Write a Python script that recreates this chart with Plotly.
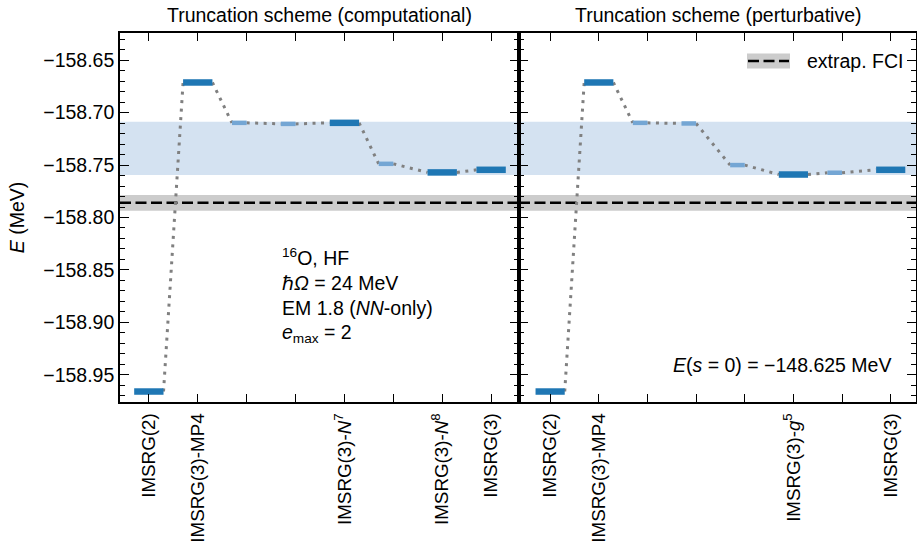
import plotly.graph_objects as go

# ---------------- data ----------------
comp_labels = ["IMSRG(2)", "IMSRG(3)-MP4", "", "", "IMSRG(3)-<i>N</i><sup>7</sup>", "",
               "IMSRG(3)-<i>N</i><sup>8</sup>", "IMSRG(3)"]
comp_E = [-158.966, -158.6712, -158.7097, -158.7107, -158.7097, -158.7488, -158.7570, -158.7545]
comp_main = [True, True, False, False, True, False, True, True]

pert_labels = ["IMSRG(2)", "IMSRG(3)-MP4", "", "", "", "IMSRG(3)-<i>g</i><sup>5</sup>", "", "IMSRG(3)"]
pert_E = [-158.966, -158.6712, -158.7097, -158.7103, -158.7500, -158.7590, -158.7573, -158.7545]
pert_main = [True, True, False, False, False, True, False, True]

fci_E = -158.786
fci_err = 0.0075
band_lo, band_hi = -158.7595, -158.7087
E_s0 = -148.625

panel_titles = ["Truncation scheme (computational)", "Truncation scheme (perturbative)"]
info_lines = ["<sup>16</sup>O, HF", "ℏ<i>Ω</i> = 24 MeV", "EM 1.8 (<i>NN</i>-only)",
              "<i>e</i><sub>max</sub> = 2"]
legend_label = "extrap. FCI"

# ---------------- styling ----------------
FONT = "Liberation Sans, Arial, sans-serif"
FS = 19.5
DARK = "#1f77b4"
LIGHT = "rgb(116,166,212)"
GREY_DOT = "rgb(128,128,128)"
BAND_BLUE = "rgb(212,226,241)"
BAND_GREY = "rgb(204,204,204)"
DASH = "11px,4.5px"

# plot area in pixels (for paper-coordinate conversions of decorations)
L, R, T, B = 120, 1, 33, 144
W, H = 917, 546
PW, PH = W - L - R, H - T - B


def px(xp):
    return (xp - L) / PW


def py(yp):
    return (H - B - yp) / PH


fig = go.Figure()


def extent(i, main):
    return (i - 0.3, i + 0.3) if main else (i - 0.3, i)


def add_panel(E, main, xa, ya):
    n = len(E)
    cx, cy = [], []
    for i in range(n - 1):
        cx += [extent(i, main[i])[1], extent(i + 1, main[i + 1])[0], None]
        cy += [E[i], E[i + 1], None]
    fig.add_trace(go.Scatter(x=cx, y=cy, mode="lines", xaxis=xa, yaxis=ya, showlegend=False,
                             line=dict(color=GREY_DOT, width=3, dash="3px,5.5px"), hoverinfo="skip"))
    for is_main, col, w in [(False, LIGHT, 4.5), (True, DARK, 6.5)]:
        bx, by = [], []
        for i in range(n):
            if main[i] == is_main:
                a, b = extent(i, main[i])
                bx += [a, b, None]
                by += [E[i], E[i], None]
        fig.add_trace(go.Scatter(x=bx, y=by, mode="lines", xaxis=xa, yaxis=ya, showlegend=False,
                                 line=dict(color=col, width=w)))


add_panel(comp_E, comp_main, "x", "y")
add_panel(pert_E, pert_main, "x2", "y2")

shapes = []
for xr, yr in [("x", "y"), ("x2", "y2")]:
    shapes.append(dict(type="rect", xref=f"{xr} domain", yref=yr, x0=0, x1=1, y0=band_lo, y1=band_hi,
                       fillcolor=BAND_BLUE, line=dict(width=0), layer="below"))
    shapes.append(dict(type="rect", xref=f"{xr} domain", yref=yr, x0=0, x1=1,
                       y0=fci_E - fci_err, y1=fci_E + fci_err,
                       fillcolor=BAND_GREY, line=dict(width=0), layer="below"))
    shapes.append(dict(type="line", xref=f"{xr} domain", yref=yr, x0=0, x1=1, y0=fci_E, y1=fci_E,
                       line=dict(color="black", width=2.5, dash=DASH), layer="below"))

# legend (drawn by hand: grey patch with dashed line + label)
shapes.append(dict(type="rect", xref="paper", yref="paper", x0=px(747), x1=px(790), y0=py(68.5), y1=py(53.5),
                   fillcolor=BAND_GREY, line=dict(width=0), layer="above"))
shapes.append(dict(type="line", xref="paper", yref="paper", x0=px(748), x1=px(789), y0=py(61), y1=py(61),
                   line=dict(color="black", width=2.5, dash=DASH), layer="above"))

annotations = []
annotations.append(dict(text=legend_label, xref="paper", yref="paper", x=px(805), y=py(61), showarrow=False,
                        xanchor="left", yanchor="middle", font=dict(size=FS, color="black")))
for t, xc in zip(panel_titles, ["x domain", "x2 domain"]):
    annotations.append(dict(text=t, xref=xc, yref="paper", x=0.5, y=1.0, yshift=18, showarrow=False,
                            xanchor="center", yanchor="middle", font=dict(size=FS, color="black")))
for k, line in enumerate(info_lines):
    annotations.append(dict(text=line, xref="x domain", yref="y domain", x=(280 - 120) / 399,
                            y=py(257 + 25.5 * k), showarrow=False, xanchor="left", yanchor="middle",
                            font=dict(size=FS, color="black")))
annotations.append(dict(text=f"<i>E</i>(<i>s</i> = 0) = −{abs(E_s0):.3f} MeV", xref="x2 domain",
                        yref="y2 domain", x=(893 - 519) / 397, y=py(365), showarrow=False, xanchor="right",
                        yanchor="middle", font=dict(size=FS, color="black")))

axis_common = dict(showline=True, linecolor="black", linewidth=1.6, mirror="allticks", ticks="inside",
                   tickwidth=1.4, tickcolor="black", showgrid=False, zeroline=False, automargin=False)
yminor = dict(dtick=0.01, ticks="inside", ticklen=5, tickwidth=1.1, tickcolor="black")
xminor = dict(tick0=0, dtick=1, ticks="inside", ticklen=8, tickwidth=1.4, tickcolor="black")


def labelled(labels):
    idx = [i for i, t in enumerate(labels) if t]
    return idx, [labels[i] for i in idx]


cv, ct = labelled(comp_labels)
pv, pt = labelled(pert_labels)

yrange = [-158.976, -158.624]
fig.update_layout(
    width=W, height=H,
    margin=dict(l=L, r=R, t=T, b=B),
    paper_bgcolor="white", plot_bgcolor="white",
    font=dict(family=FONT, size=FS, color="black"),
    shapes=shapes, annotations=annotations,
    showlegend=False,
    xaxis=dict(domain=[0, 399 / PW], range=[-0.59, 7.57], tickvals=cv, ticktext=ct, minor=xminor,
               tickangle=-90, ticklen=8, ticklabelstandoff=2, anchor="y",
               tickfont=dict(size=18.8), **axis_common),
    xaxis2=dict(domain=[399 / PW, 1], range=[-0.64, 7.52], tickvals=pv, ticktext=pt, minor=xminor,
                tickangle=-90, ticklen=8, ticklabelstandoff=2, anchor="y2",
                tickfont=dict(size=18.8), **axis_common),
    yaxis=dict(range=yrange, tick0=-158.65, dtick=0.05, tickformat=".2f", ticklen=9, anchor="x",
               minor=yminor, title=dict(text="<i>E</i> (MeV)", standoff=13, font=dict(size=FS)),
               **axis_common),
    yaxis2=dict(range=yrange, matches="y", tick0=-158.65, dtick=0.05, ticklen=9, anchor="x2",
                showticklabels=False, minor=yminor, **axis_common),
)

fig.write_html("out.html", config={"displayModeBar": False},
               post_script="document.body.style.margin='0';document.body.style.overflow='hidden';")
